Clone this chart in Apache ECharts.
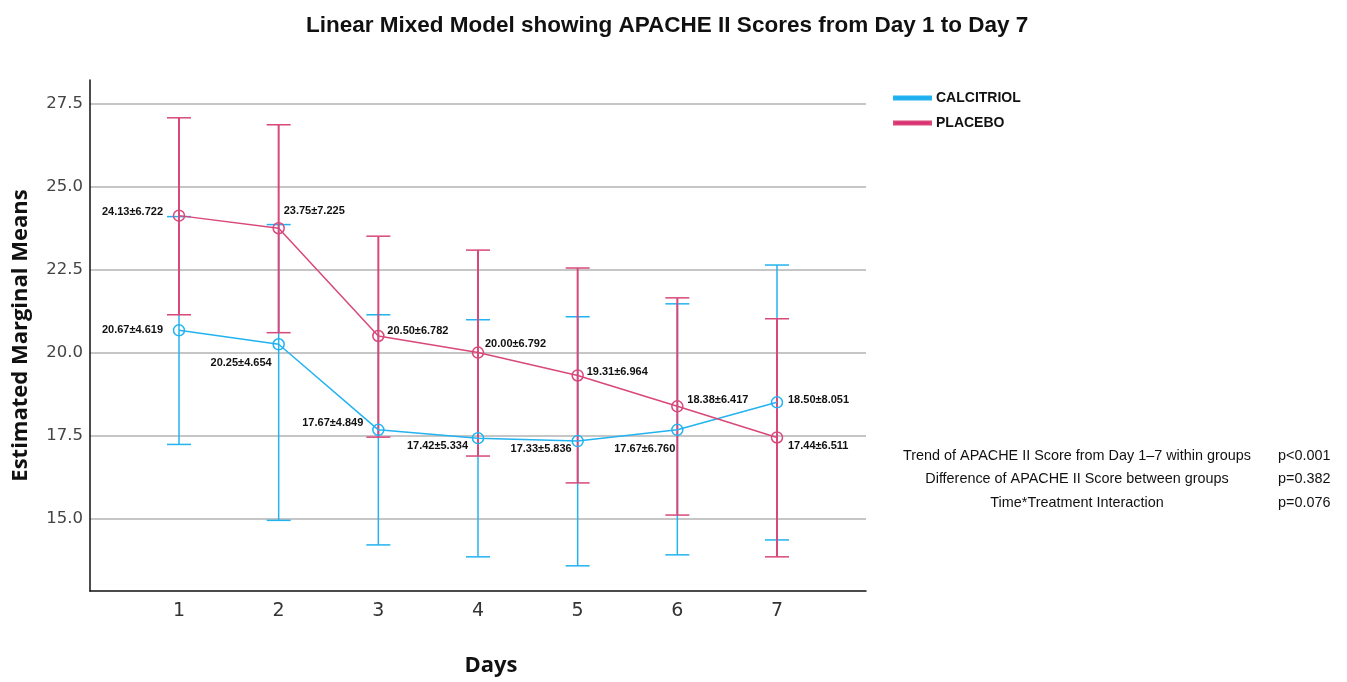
<!DOCTYPE html>
<html><head><meta charset="utf-8">
<script src="https://cdn.jsdelivr.net/npm/echarts@6/dist/echarts.min.js"></script>
<style>html,body{margin:0;padding:0;background:#fff}#c{width:1347px;height:682px}</style>
</head><body><div id="c"></div>
<script>
// ---- data ----
var days = [1, 2, 3, 4, 5, 6, 7];
var calcitriolMean = [20.67, 20.25, 17.67, 17.42, 17.33, 17.67, 18.50];
var calcitriolSD   = [4.619, 4.654, 4.849, 5.334, 5.836, 6.760, 8.051];
var calcitriolLow  = [17.23, 14.94, 14.20, 13.84, 13.57, 13.90, 14.35];
var calcitriolHigh = [24.10, 23.86, 21.14, 20.99, 21.08, 21.47, 22.64];
var placeboMean = [24.13, 23.75, 20.50, 20.00, 19.31, 18.38, 17.44];
var placeboSD   = [6.722, 7.225, 6.782, 6.792, 6.964, 6.417, 6.511];
var placeboLow  = [21.14, 20.60, 17.45, 16.88, 16.07, 15.10, 13.84];
var placeboHigh = [27.08, 26.87, 23.51, 23.09, 22.55, 21.65, 21.02];
var yTicks = [15, 17.5, 20, 22.5, 25, 27.5];
var statLabels = ['Trend of APACHE II Score from Day 1\u20137 within groups', 'Difference of APACHE II Score between groups', 'Time*Treatment Interaction'];
var statValues = ['p<0.001', 'p=0.382', 'p=0.076'];

// ---- label placement (style only) ----
var calLabelPos = [['right',-16,0],['right',-7,19],['right',-15,-7],['right',-10,8],['right',-6,8],['right',-2,19],['left',11,-2]];
var plaLabelPos = [['right',-16,-4],['left',5,-17],['left',9,-5],['left',7,-9],['left',9,-3],['left',10,-6],['left',11,9]];

var BLUE = '#22b3f0', PINK = '#d8487a';
var FONT = 'Liberation Sans, Arial, sans-serif';

function pts(mean){ return days.map(function(d,i){ return [d, mean[i]]; }); }
function bars(low, high){ return days.map(function(d,i){ return [d, low[i], high[i]]; }); }
function labs(mean, sd){ return days.map(function(d,i){ return [d, mean[i], mean[i].toFixed(2) + '\u00b1' + sd[i].toFixed(3)]; }); }

function errorSeries(name, data, color, vw){
  return {
    type: 'custom', name: name, data: data, z: 2, silent: true,
    renderItem: function(params, api){
      var x = api.value(0);
      var lo = api.coord([x, api.value(1)]);
      var hi = api.coord([x, api.value(2)]);
      var hw = 12;
      var st = {stroke: color, lineWidth: 1.5};
      return {type: 'group', children: [
        {type: 'line', shape: {x1: lo[0], y1: lo[1], x2: hi[0], y2: hi[1]}, style: {stroke: color, lineWidth: vw}},
        {type: 'line', shape: {x1: lo[0]-hw, y1: lo[1], x2: lo[0]+hw, y2: lo[1]}, style: st},
        {type: 'line', shape: {x1: hi[0]-hw, y1: hi[1], x2: hi[0]+hw, y2: hi[1]}, style: st}
      ]};
    }
  };
}
function labelSeries(data, pos){
  return {
    type: 'custom', data: data, z: 5, silent: true,
    renderItem: function(params, api){
      var i = params.dataIndex;
      var p = api.coord([api.value(0), api.value(1)]);
      var lp = pos[i];
      return {type: 'text', x: p[0] + lp[1], y: p[1] + lp[2], style: {
        text: data[i][2], fill: '#111', font: 'bold 11px ' + FONT,
        align: lp[0], verticalAlign: 'middle'}};
    }
  };
}
function lineSeries(name, data, color){
  return {
    type: 'line', name: name, data: data, z: 4,
    symbol: 'circle', symbolSize: 11, showSymbol: true,
    lineStyle: {color: color, width: 1.5},
    itemStyle: {color: 'rgba(255,255,255,0)', borderColor: color, borderWidth: 1.5},
    emphasis: {disabled: true}, animation: false
  };
}

var graphics = [];
statLabels.forEach(function(t, i){
  graphics.push({type: 'text', x: 1077, y: 456 + i*23.5, style: {text: t, fill: '#111', font: '14.4px ' + FONT, align: 'center', verticalAlign: 'middle'}});
  graphics.push({type: 'text', x: 1278, y: 456 + i*23.5, style: {text: statValues[i], fill: '#111', font: '14.4px ' + FONT, align: 'left', verticalAlign: 'middle'}});
});

var chart = echarts.init(document.getElementById('c'), null, {renderer: 'canvas'});
chart.setOption({
  animation: false,
  backgroundColor: '#fff',
  title: {text: 'Linear Mixed Model showing APACHE II Scores from Day 1 to Day 7', left: 301, top: 9,
    textStyle: {fontFamily: FONT, fontWeight: 'bold', fontSize: 22.5, color: '#111'}},
  legend: {orient: 'vertical', left: 888, top: 86, itemWidth: 37, itemHeight: 3, itemGap: 11, icon: 'rect',
    textStyle: {fontFamily: FONT, fontWeight: 'bold', fontSize: 14, color: '#111'},
    data: [{name: 'CALCITRIOL', itemStyle: {color: '#1aa8ee'}}, {name: 'PLACEBO', itemStyle: {color: '#e0186a'}}]},
  grid: {left: 90, top: 80, right: 481, bottom: 88, containLabel: false},
  xAxis: {type: 'value', min: 0.107, max: 7.893,
    name: 'Days', nameLocation: 'middle', nameGap: 64,
    nameTextStyle: {fontFamily: 'Open Sans', fontWeight: 'bold', fontSize: 22, color: '#111', padding: [0, 0, 0, 26]},
    axisLine: {show: true, onZero: false, lineStyle: {color: '#111', width: 1.5}},
    axisTick: {show: false, customValues: days},
    axisLabel: {customValues: days, fontFamily: 'DejaVu Sans', fontSize: 19, color: '#333', margin: 11},
    splitLine: {show: false}},
  yAxis: {type: 'value', min: 12.81, max: 28.22,
    name: 'Estimated Marginal Means', nameLocation: 'middle', nameGap: 58,
    nameTextStyle: {fontFamily: 'Open Sans', fontWeight: 'bold', fontSize: 22, color: '#111'},
    axisLine: {show: true, onZero: false, lineStyle: {color: '#111', width: 1.5}},
    axisTick: {show: false, customValues: yTicks},
    axisLabel: {customValues: yTicks, fontFamily: 'DejaVu Sans', fontSize: 16.5, color: '#444', margin: 7,
      formatter: function(v){ return v.toFixed(1); }},
    splitLine: {show: true, lineStyle: {color: '#b3b3b3', width: 1.5}}},
  graphic: graphics,
  series: [
    errorSeries('calErr', bars(calcitriolLow, calcitriolHigh), BLUE, 1.5),
    errorSeries('plaErr', bars(placeboLow, placeboHigh), PINK, 2),
    lineSeries('CALCITRIOL', pts(calcitriolMean), BLUE),
    lineSeries('PLACEBO', pts(placeboMean), PINK),
    labelSeries(labs(calcitriolMean, calcitriolSD), calLabelPos),
    labelSeries(labs(placeboMean, placeboSD), plaLabelPos)
  ]
});
</script></body></html>
